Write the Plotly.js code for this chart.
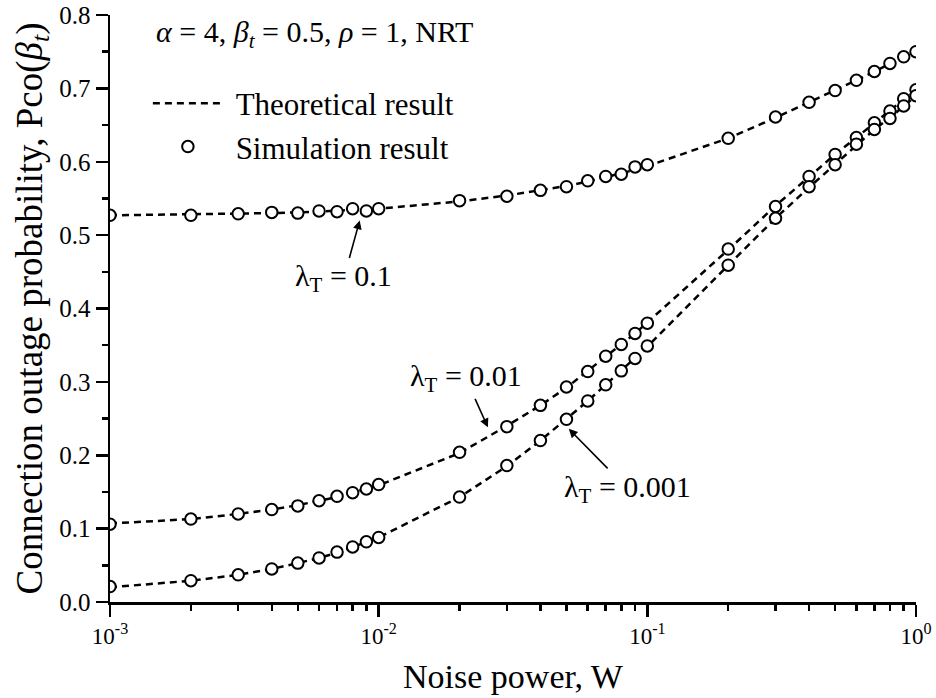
<!DOCTYPE html>
<html>
<head>
<meta charset="utf-8">
<script src="https://cdn.plot.ly/plotly-3.0.1.min.js"></script>
<style>
  html, body { margin: 0; padding: 0; background: #fff; }
  #chart { width: 936px; height: 698px; }
</style>
</head>
<body>
<div id="chart"></div>
<script>
// Noise power W (x values)
const noisePower = [
  0.001, 0.002, 0.003, 0.004, 0.005, 0.006, 0.007, 0.008, 0.009,
  0.01, 0.02, 0.03, 0.04, 0.05, 0.06, 0.07, 0.08, 0.09,
  0.1, 0.2, 0.3, 0.4, 0.5, 0.6, 0.7, 0.8, 0.9,
  1.0
];

// Theoretical results (dashed lines)
const theory_lt01 = [
  0.527, 0.528, 0.529, 0.530, 0.531, 0.532, 0.533, 0.534, 0.535,
  0.536, 0.546, 0.554, 0.561, 0.567, 0.573, 0.579, 0.584, 0.589,
  0.594, 0.632, 0.660, 0.681, 0.697, 0.711, 0.723, 0.734, 0.743,
  0.751
];
const theory_lt001 = [
  0.107, 0.113, 0.120, 0.126, 0.132, 0.138, 0.143, 0.149, 0.154,
  0.159, 0.203, 0.240, 0.268, 0.292, 0.315, 0.334, 0.351, 0.366,
  0.381, 0.480, 0.540, 0.580, 0.610, 0.633, 0.653, 0.670, 0.685,
  0.697
];
const theory_lt0001 = [
  0.020, 0.029, 0.037, 0.045, 0.053, 0.060, 0.067, 0.075, 0.082,
  0.088, 0.143, 0.185, 0.220, 0.249, 0.274, 0.296, 0.315, 0.332,
  0.348, 0.459, 0.523, 0.565, 0.597, 0.623, 0.644, 0.660, 0.676,
  0.690
];

// Simulation results (open circles)
const sim_lt01 = [
  0.527, 0.527, 0.529, 0.531, 0.530, 0.533, 0.532, 0.536, 0.533,
  0.536, 0.547, 0.553, 0.561, 0.566, 0.574, 0.580, 0.583, 0.593,
  0.596, 0.632, 0.661, 0.681, 0.697, 0.711, 0.723, 0.734, 0.743,
  0.750
];
const sim_lt001 = [
  0.106, 0.113, 0.120, 0.126, 0.131, 0.138, 0.144, 0.149, 0.154,
  0.160, 0.204, 0.239, 0.268, 0.293, 0.314, 0.335, 0.351, 0.366,
  0.380, 0.481, 0.539, 0.580, 0.610, 0.633, 0.653, 0.669, 0.686,
  0.698
];
const sim_lt0001 = [
  0.021, 0.029, 0.037, 0.045, 0.053, 0.060, 0.068, 0.075, 0.082,
  0.088, 0.143, 0.186, 0.220, 0.249, 0.274, 0.296, 0.315, 0.332,
  0.349, 0.459, 0.523, 0.566, 0.596, 0.624, 0.644, 0.659, 0.676,
  0.690
];

// Axis tick labels
const xMajorTicks = [0.001, 0.01, 0.1, 1];
const xMajorLabels = ['10<sup>-3</sup>', '10<sup>-2</sup>', '10<sup>-1</sup>', '10<sup>0</sup>'];
const minorMultipliers = [2, 3, 4, 5, 6, 7, 8, 9];

const xMinorTicks = [];
xMajorTicks.slice(0, 3).forEach(d => minorMultipliers.forEach(m => xMinorTicks.push(d * m)));

const FONT = 'Liberation Serif, Times New Roman, serif';

const theorySeries = [theory_lt01, theory_lt001, theory_lt0001];
const simSeries = [sim_lt01, sim_lt001, sim_lt0001];

const traces = [];
theorySeries.forEach((ys, i) => {
  traces.push({
    x: noisePower, y: ys, type: 'scatter', mode: 'lines',
    name: '\u00A0Theoretical result', legendgroup: 'theory', showlegend: i === 0,
    line: { color: '#000', width: 2.5, dash: '7px,5px' },
    hoverinfo: 'skip'
  });
});
simSeries.forEach((ys, i) => {
  traces.push({
    x: noisePower, y: ys, type: 'scatter', mode: 'markers',
    name: '\u00A0Simulation result', legendgroup: 'sim', showlegend: i === 0,
    marker: { symbol: 'circle', size: 11.5, color: '#fff', line: { color: '#000', width: 2 } },
    hoverinfo: 'skip'
  });
});

const arrowCommon = {
  showarrow: true, arrowhead: 2, arrowsize: 1.1, arrowwidth: 1.6, arrowcolor: '#000',
  xref: 'x', yref: 'y'
};

const layout = {
  width: 936, height: 698,
  margin: { l: 110, r: 20, t: 15, b: 96 },
  paper_bgcolor: '#fff', plot_bgcolor: '#fff',
  font: { family: FONT, color: '#000' },
  showlegend: true,
  legend: {
    x: 0.047, y: 0.895, xanchor: 'left', yanchor: 'top',
    bgcolor: 'rgba(0,0,0,0)', borderwidth: 0,
    font: { family: FONT, size: 31, color: '#000' },
    itemwidth: 70, tracegroupgap: 0, traceorder: 'grouped'
  },
  xaxis: {
    type: 'log', range: [-3, 0],
    tickmode: 'array', tickvals: xMajorTicks, ticktext: xMajorLabels,
    ticks: 'outside', ticklen: 12, tickwidth: 2.5, tickcolor: '#000',
    showline: true, linewidth: 2.5, linecolor: '#000',
    showgrid: false, zeroline: false, mirror: false,
    tickfont: { family: FONT, size: 23, color: '#000' },
    minor: { tickmode: 'array', tickvals: xMinorTicks, ticks: 'outside', ticklen: 6, tickwidth: 2.5, tickcolor: '#000', showgrid: false },
    title: { text: 'Noise power, W', font: { family: FONT, size: 34, color: '#000' }, standoff: 16 }
  },
  yaxis: {
    range: [0, 0.8], dtick: 0.1, tick0: 0, tickformat: '.1f',
    ticks: 'outside', ticklen: 12, tickwidth: 2.5, tickcolor: '#000',
    showline: true, linewidth: 2.5, linecolor: '#000',
    showgrid: false, zeroline: false, mirror: false,
    tickfont: { family: FONT, size: 25, color: '#000' },
    minor: { dtick: 0.05, ticks: 'outside', ticklen: 6, tickwidth: 2.5, tickcolor: '#000', showgrid: false },
    title: { text: 'Connection outage probability, Pco(<i>β<sub>t</sub></i>)', font: { family: FONT, size: 37, color: '#000' }, standoff: 6 }
  },
  annotations: [
    {
      xref: 'paper', yref: 'paper', x: 0.054, y: 0.968, xanchor: 'left', yanchor: 'middle',
      showarrow: false, font: { family: FONT, size: 30, color: '#000' },
      text: '<i>α</i> = 4, <i>β<sub>t</sub></i> = 0.5, <i>ρ</i> = 1, NRT'
    },
    Object.assign({}, arrowCommon, {
      x: Math.log10(0.0085), y: 0.520, ax: -16, ay: 58,
      font: { family: FONT, size: 30, color: '#000' },
      text: 'λ<sub>T</sub> = 0.1'
    }),
    Object.assign({}, arrowCommon, {
      x: Math.log10(0.0255), y: 0.238, ax: -22, ay: -49,
      font: { family: FONT, size: 30, color: '#000' },
      text: 'λ<sub>T</sub> = 0.01'
    }),
    Object.assign({}, arrowCommon, {
      x: Math.log10(0.051), y: 0.236, ax: 59, ay: 60,
      font: { family: FONT, size: 30, color: '#000' },
      text: 'λ<sub>T</sub> = 0.001'
    })
  ]
};

Plotly.newPlot('chart', traces, layout, { displayModeBar: false, staticPlot: true });
</script>
</body>
</html>
